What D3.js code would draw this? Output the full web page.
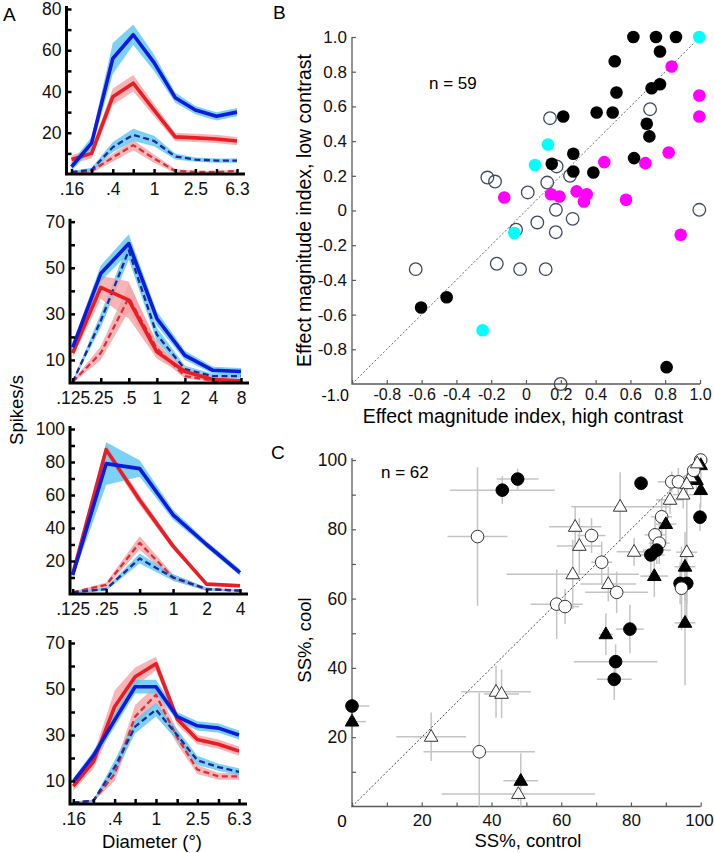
<!DOCTYPE html>
<html><head><meta charset="utf-8">
<script src="https://cdn.jsdelivr.net/npm/d3@7"></script>
<style>body{margin:0;background:#fff}svg{display:block}text{font-family:"Liberation Sans",Arial,Helvetica,sans-serif}</style>
</head><body><svg id="fig" width="714" height="853"></svg>
<script>
// ================= Panel A data =================
const a1Sizes = [0.16,0.25,0.4,0.63,1,1.6,2.5,4,6.3];
const a1XLabels = [0.16,0.4,1,2.5,6.3];
const a1YLabels = [20,40,60,80];
const a1BlueSolid = [3.5,15,56,67.5,54,37,31,28,30];
const a1BlueSolidErr = [2,3,7.5,5,4,2.5,2,2,2];
const a1RedSolid = [7,10,37.5,44,31,18,17.5,17,16];
const a1RedSolidErr = [2,2.5,4,4,3,2,2,2,2];
const a1BlueDash = [1,2,13,19,16,8.5,7,6.5,6.5];
const a1BlueDashErr = [0.5,1,2.5,3,2.5,1.5,1,1,1];
const a1RedDash = [0.5,1.5,8,14,7.5,1.5,1,1,1.5];
const a1RedDashErr = [0.5,1,2,2.5,2,1,0.5,0.5,0.5];

const a2Sizes = [0.125,0.25,0.5,1,2,4,8];
const a2XLabels = [0.125,0.25,0.5,1,2,4,8];
const a2YLabels = [10,30,50,70];
const a2BlueSolid = [15.5,47.5,60.5,28,12,5.5,5];
const a2BlueSolidErr = [2,3.5,4,3,2,1.5,1.5];
const a2RedSolid = [13,41.5,36,13.5,5,1.5,1];
const a2RedSolidErr = [2,5,8,3,1.5,1,0.5];
const a2BlueDash = [0.5,27,57.5,21,6,3,3];
const a2BlueDashErr = [0.5,3,4,3,1.5,1,1];
const a2RedDash = [0.5,13,37,15,3,1,0.5];
const a2RedDashErr = [0.5,3,6,3,1,0.5,0.5];

const a3Sizes = [0.125,0.25,0.5,1,2,4];
const a3XLabels = [0.125,0.25,0.5,1,2,4];
const a3YLabels = [20,40,60,80,100];
const a3BlueSolid = [11.5,79,76,48,30,13];
const a3BlueSolidErr = [2,13,5,3,2,2];
const a3RedSolid = [12,87.5,57,29,6,5];
const a3RedSolidErr = [2,3,3,2,1,1];
const a3BlueDash = [1,3,21.5,10,3,2];
const a3BlueDashErr = [0.5,1,3,2,1,0.5];
const a3RedDash = [1,5.5,31,10,3,2];
const a3RedDashErr = [0.5,1.5,4,2,1,0.5];

const a4Sizes = [0.16,0.25,0.4,0.63,1,1.6,2.5,4,6.3];
const a4XLabels = [0.16,0.4,1,2.5,6.3];
const a4YLabels = [10,30,50,70];
const a4BlueSolid = [9.7,21,36.5,51,51,38,34,33,30];
const a4BlueSolidErr = [1.5,2,3,3,3,2,2,2,2];
const a4RedSolid = [7.8,18.4,42.3,55.3,61,37,28,26,23];
const a4RedSolidErr = [2,3,7,4,3,2.5,2,2,2];
const a4BlueDash = [0.6,1.4,16,33.6,41,30,19,16,14];
const a4BlueDashErr = [0.5,0.5,3,3,3,2.5,2,1.5,1.5];
const a4RedDash = [0.5,1.5,13,38,47.5,29,15,12,12];
const a4RedDashErr = [0.5,0.5,3,5,4,3,2,1.5,1.5];

// ================= Panel B data =================
const bTicks = [-1,-0.8,-0.6,-0.4,-0.2,0,0.2,0.4,0.6,0.8,1];
const bBlackX = [0.617,0.747,0.862,0.77,0.51,0.52,0.722,0.77,0.406,0.498,0.214,0.694,0.709,0.272,0.148,0.272,0.387,0.621,-0.603,-0.456,0.808];
const bBlackY = [1.0,1.0,1.0,0.916,0.86,0.68,0.705,0.728,0.565,0.565,0.542,0.50,0.427,0.327,0.269,0.225,0.219,0.302,-0.559,-0.50,-0.903];
const bMagentaX = [0.837,0.996,0.996,0.82,0.45,0.686,-0.125,0.144,0.192,0.291,0.349,0.333,0.575,0.889];
const bMagentaY = [0.83,0.663,0.542,0.334,0.279,0.273,0.075,0.094,0.081,0.11,0.094,0.052,0.062,-0.14];
const bCyanX = [0.996,0.126,0.052,-0.067,-0.249];
const bCyanY = [1.0,0.38,0.262,-0.13,-0.69];
const bOpenX = [0.713,0.138,0.176,0.253,-0.222,-0.178,0.122,0.01,0.172,0.996,0.065,0.268,-0.057,0.171,-0.168,-0.034,0.113,0.199,-0.634];
const bOpenY = [0.584,0.532,0.254,0.2,0.19,0.167,0.161,0.104,0.004,0.004,-0.069,-0.048,-0.111,-0.125,-0.307,-0.338,-0.338,-1.0,-0.338];

// ================= Panel C data =================
// type: fc filled circle, oc open circle, ft filled triangle, ot open triangle
const cX =    [43.1,47.5,36,82.9,91.7,93.6,100,100,98.8,100,99.8,91.2,76.9,88.8,90,64,68.7,86.9,88.1,65.2,87.4,85.7,80.9,96,95.5,71.6,63.3,86.7,94.1,96,94.5,73.5,75.9,58.7,61.1,95.5,79.7,72.8,75.6,75.2,41.3,42.9,48.4,47.7,0,0,22.7,36.5,97,98,96,99,95];
const cY =    [91.3,94.5,77.9,93.3,93.7,93.7,100,98.5,94.2,91.3,83.5,88.5,86.5,83.6,81.5,80.7,78.2,78.4,76,75.2,74,72.6,73.5,73.4,69.2,70.5,67,66.5,64.4,64.4,63,64.2,61.8,58.4,57.7,53,51.2,49.7,41.8,36.7,33.1,32.5,7.4,3.6,29,24.5,20.1,15.8,95,97,93,99,90];
const cXErr = [15,6,8.6,2,4,3,1,1,1,1,1,4,14,3,3,7.5,4,3,3,6.5,4,4,5,3,3,3,19,4,2,2,2,8,9,7.5,4,3,4,2,12,5,10,5,5,22,5,4,10,16,2,1,2,1,3];
const cYErr = [4,3,20,2,3,4,1,3,4,5,4,4,10,5,6,6,5,5,6,8,4,6,4,20,10,6,10,6,6,6,12,5,6,10,5,18,7,6,5,6,7.5,7,8,2,0,0,7,17,3,2,3,1,4];
const cType = ["fc","fc","oc","fc","oc","oc","oc","ft","ft","ft","fc","ot","ot","oc","ft","ot","oc","oc","oc","ot","fc","fc","ot","ot","ft","oc","ot","ft","fc","fc","oc","ot","oc","oc","oc","ft","fc","ft","fc","fc","ot","ot","ft","ot","fc","ft","ot","oc","ot","oc","ot","ot","ot"];
const cTicks = [0,10,20,30,40,50,60,70,80,90,100];
const cLabels = [20,40,60,80,100];

// ================= Drawing =================
const svg = d3.select("#fig");
const BLUE = "#0d1bdc", BLUE_BAND = "#5cc6f2", NAVY = "#1b2a9c";
const RED = "#ea1c24", RED_BAND = "#f5a2a5", RED_D = "#d8303a";

function fmtSize(d){ return d < 1 ? String(d).replace(/^0/, "") : String(d); }

function panelA(c) {
  const g = svg.append("g");
  const n = c.sizes.length;
  const x = d3.scaleLog().domain([c.sizes[0], c.sizes[n-1]]).range(c.xRange);
  const y = d3.scaleLinear().domain([0, c.yMax]).range(c.yRange);
  const series = [
    {v:c.redDash, e:c.redDashErr, band:RED_BAND, stroke:RED_D, w:2.3, dash:"6,3.5"},
    {v:c.blueDash, e:c.blueDashErr, band:BLUE_BAND, stroke:NAVY, w:2.3, dash:"6,3.5"},
    {v:c.redSolid, e:c.redSolidErr, band:RED_BAND, stroke:RED, w:3.6, dash:null},
    {v:c.blueSolid, e:c.blueSolidErr, band:BLUE_BAND, stroke:BLUE, w:3.6, dash:null}
  ];
  series.forEach(s => {
    const area = d3.area()
      .x((d,i) => x(c.sizes[i]))
      .y0((d,i) => y(Math.max(0, s.v[i] - s.e[i])))
      .y1((d,i) => y(s.v[i] + s.e[i]));
    g.append("path").datum(s.v).attr("d", area).attr("fill", s.band).attr("opacity", 0.8);
  });
  series.forEach(s => {
    const line = d3.line().x((d,i) => x(c.sizes[i])).y(d => y(d));
    g.append("path").datum(s.v).attr("d", line).attr("fill", "none")
      .attr("stroke", s.stroke).attr("stroke-width", s.w)
      .attr("stroke-dasharray", s.dash).attr("stroke-linejoin", "round");
  });
  const y0 = y(0);
  const xa = g.append("g").attr("transform", `translate(0,${y0})`)
    .call(d3.axisBottom(x).tickValues(c.sizes).tickSize(-5).tickPadding(9)
      .tickFormat(d => c.xLabels.includes(d) ? fmtSize(d) : ""));
  const ya = g.append("g").attr("transform", `translate(${c.axisX},0)`)
    .call(d3.axisLeft(y).tickValues(d3.range(10, c.yMax + 1, 10)).tickSize(-5).tickPadding(5)
      .tickFormat(d => c.yLabels.includes(d) ? d : ""));
  [xa, ya].forEach(a => {
    a.select(".domain").remove();
    a.selectAll("line").attr("stroke", "#000").attr("stroke-width", 2.5);
    a.selectAll("text").attr("font-size", 17.5).attr("fill", "#111")
      .attr("font-family", '"Liberation Sans",Arial,sans-serif');
  });
  g.append("path").attr("d", `M${c.axisX},${y(c.yMax) - 3}V${y0}H${x(c.sizes[n-1]) + 8}`)
    .attr("fill", "none").attr("stroke", "#000").attr("stroke-width", 3);
}

panelA({sizes:a1Sizes, xLabels:a1XLabels, yLabels:a1YLabels, yMax:80, axisX:66.5, xRange:[71.5,237], yRange:[174,9],
  blueSolid:a1BlueSolid, blueSolidErr:a1BlueSolidErr, redSolid:a1RedSolid, redSolidErr:a1RedSolidErr,
  blueDash:a1BlueDash, blueDashErr:a1BlueDashErr, redDash:a1RedDash, redDashErr:a1RedDashErr});
panelA({sizes:a2Sizes, xLabels:a2XLabels, yLabels:a2YLabels, yMax:70, axisX:70, xRange:[72.7,241], yRange:[383,221.7],
  blueSolid:a2BlueSolid, blueSolidErr:a2BlueSolidErr, redSolid:a2RedSolid, redSolidErr:a2RedSolidErr,
  blueDash:a2BlueDash, blueDashErr:a2BlueDashErr, redDash:a2RedDash, redDashErr:a2RedDashErr});
panelA({sizes:a3Sizes, xLabels:a3XLabels, yLabels:a3YLabels, yMax:100, axisX:70, xRange:[72.7,240], yRange:[594,429],
  blueSolid:a3BlueSolid, blueSolidErr:a3BlueSolidErr, redSolid:a3RedSolid, redSolidErr:a3RedSolidErr,
  blueDash:a3BlueDash, blueDashErr:a3BlueDashErr, redDash:a3RedDash, redDashErr:a3RedDashErr});
panelA({sizes:a4Sizes, xLabels:a4XLabels, yLabels:a4YLabels, yMax:70, axisX:70, xRange:[73.3,239], yRange:[804,643],
  blueSolid:a4BlueSolid, blueSolidErr:a4BlueSolidErr, redSolid:a4RedSolid, redSolidErr:a4RedSolidErr,
  blueDash:a4BlueDash, blueDashErr:a4BlueDashErr, redDash:a4RedDash, redDashErr:a4RedDashErr});

svg.append("text").attr("x", 3).attr("y", 21).attr("font-size", 19).text("A");
svg.append("text").attr("transform", "translate(23,410) rotate(-90)").attr("text-anchor", "middle")
  .attr("font-size", 18.5).text("Spikes/s");
svg.append("text").attr("x", 152).attr("y", 848).attr("text-anchor", "middle").attr("font-size", 18.5).text("Diameter (°)");

// ---------- Panel B ----------
const AX = "#5a5a5a";
function styleAxis(a, fs) {
  a.select(".domain").remove();
  a.selectAll("line").attr("stroke", AX).attr("stroke-width", 1.2);
  a.selectAll("text").attr("font-size", fs).attr("fill", "#111")
    .attr("font-family", '"Liberation Sans",Arial,sans-serif');
}
const xB = d3.scaleLinear().domain([-1, 1]).range([352, 700]);
const yB = d3.scaleLinear().domain([-1, 1]).range([384, 37]);
const gB = svg.append("g");
const bFmt = d => d === 0 ? "0" : d.toFixed(1);
const xaB = gB.append("g").attr("transform", `translate(0,${yB(-1)})`)
  .call(d3.axisBottom(xB).tickValues(bTicks).tickSize(-4).tickPadding(5).tickFormat(d => d === -1 ? "" : bFmt(d)));
const yaB = gB.append("g").attr("transform", `translate(${xB(-1)},0)`)
  .call(d3.axisLeft(yB).tickValues(bTicks.filter(d => d > -1)).tickSize(-4).tickPadding(5).tickFormat(bFmt));
styleAxis(xaB, 16); styleAxis(yaB, 17);
gB.append("text").attr("x", 349).attr("y", yB(-1) + 17).attr("text-anchor", "end").attr("font-size", 16).text("-1.0");
gB.append("path").attr("d", `M${xB(-1)},${yB(1)}V${yB(-1)}H${xB(1)}`).attr("fill", "none").attr("stroke", AX).attr("stroke-width", 1.3);
gB.append("line").attr("x1", xB(-1)).attr("y1", yB(-1)).attr("x2", xB(1)).attr("y2", yB(1))
  .attr("stroke", "#666").attr("stroke-width", 1).attr("stroke-dasharray", "2,2");
const R = 6.3;
gB.selectAll(".bo").data(bOpenX).join("circle").attr("cx", d => xB(d)).attr("cy", (d,i) => yB(bOpenY[i]))
  .attr("r", R).attr("fill", "none").attr("stroke", "#3e4a5c").attr("stroke-width", 1.3);
gB.selectAll(".bm").data(bMagentaX).join("circle").attr("cx", d => xB(d)).attr("cy", (d,i) => yB(bMagentaY[i]))
  .attr("r", R).attr("fill", "#ff00ff");
gB.selectAll(".bc").data(bCyanX).join("circle").attr("cx", d => xB(d)).attr("cy", (d,i) => yB(bCyanY[i]))
  .attr("r", R).attr("fill", "#00ffff");
gB.selectAll(".bk").data(bBlackX).join("circle").attr("cx", d => xB(d)).attr("cy", (d,i) => yB(bBlackY[i]))
  .attr("r", R).attr("fill", "#000");
gB.append("text").attr("x", 429).attr("y", 89).attr("font-size", 17).text("n = 59");
gB.append("text").attr("x", 273).attr("y", 19).attr("font-size", 19).text("B");
gB.append("text").attr("x", 523).attr("y", 423).attr("text-anchor", "middle").attr("font-size", 19.5)
  .text("Effect magnitude  index, high contrast");
gB.append("text").attr("transform", `translate(311,${(yB(-1) + yB(1)) / 2}) rotate(-90)`).attr("text-anchor", "middle")
  .attr("font-size", 19.5).text("Effect magnitude index, low contrast");

// ---------- Panel C ----------
const xC = d3.scaleLinear().domain([0, 100]).range([352, 700.7]);
const yC = d3.scaleLinear().domain([0, 100]).range([806.5, 460]);
const gC = svg.append("g");
const xaC = gC.append("g").attr("transform", `translate(0,${yC(0)})`)
  .call(d3.axisBottom(xC).tickValues(cTicks).tickSize(-4).tickPadding(7).tickFormat(d => cLabels.includes(d) ? d : ""));
const yaC = gC.append("g").attr("transform", `translate(${xC(0)},0)`)
  .call(d3.axisLeft(yC).tickValues(cTicks.filter(d => d > 0)).tickSize(-4).tickPadding(5).tickFormat(d => cLabels.includes(d) ? d : ""));
styleAxis(xaC, 17); styleAxis(yaC, 17.5);
xaC.selectAll(".tick text").filter(d => d === 100).attr("text-anchor", "end").attr("dx", 12.5);
gC.append("text").attr("x", 342).attr("y", yC(0) + 20).attr("text-anchor", "middle").attr("font-size", 17).text("0");
gC.append("path").attr("d", `M${xC(0)},${yC(100) - 2}V${yC(0)}H${xC(100)}`).attr("fill", "none").attr("stroke", AX).attr("stroke-width", 1.3);
const EB = "#c4c4c4";
cX.forEach((xv, i) => {
  const yv = cY[i];
  if (cXErr[i] > 0) gC.append("line").attr("x1", xC(Math.max(0, xv - cXErr[i]))).attr("x2", xC(Math.min(101, xv + cXErr[i])))
    .attr("y1", yC(yv)).attr("y2", yC(yv)).attr("stroke", EB).attr("stroke-width", 1.5);
  if (cYErr[i] > 0) gC.append("line").attr("y1", yC(Math.max(0, yv - cYErr[i]))).attr("y2", yC(Math.min(101, yv + cYErr[i])))
    .attr("x1", xC(xv)).attr("x2", xC(xv)).attr("stroke", EB).attr("stroke-width", 1.5);
});
gC.append("line").attr("x1", xC(0)).attr("y1", yC(0)).attr("x2", xC(100)).attr("y2", yC(100))
  .attr("stroke", "#444").attr("stroke-width", 1).attr("stroke-dasharray", "2,2");
const tri = d3.symbol().type(d3.symbolTriangle).size(80);
cX.forEach((xv, i) => {
  const t = cType[i], px = xC(xv), py = yC(cY[i]);
  const filled = t[0] === "f";
  let m;
  if (t[1] === "c") m = gC.append("circle").attr("cx", px).attr("cy", py).attr("r", 6.3);
  else m = gC.append("path").attr("d", tri()).attr("transform", `translate(${px},${py + 0.5})`);
  m.attr("fill", filled ? "#000" : "#fff").attr("stroke", filled ? "#000" : "#333").attr("stroke-width", 1);
});
gC.append("text").attr("x", 381).attr("y", 478).attr("font-size", 17).text("n = 62");
gC.append("text").attr("x", 271).attr("y", 459).attr("font-size", 19).text("C");
gC.append("text").attr("x", 528).attr("y", 847).attr("text-anchor", "middle").attr("font-size", 18.5).text("SS%, control");
gC.append("text").attr("transform", "translate(311,640) rotate(-90)").attr("text-anchor", "middle")
  .attr("font-size", 18.5).text("SS%, cool");
</script>
</body></html>
